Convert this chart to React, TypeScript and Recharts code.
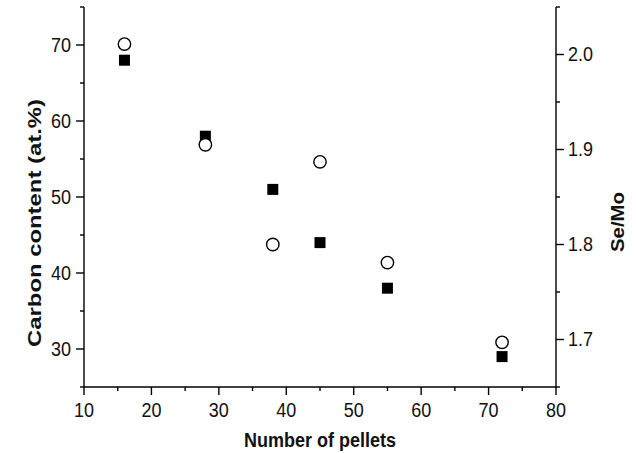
import React from "react";
import { ScatterChart, Scatter, XAxis, YAxis, Label } from "recharts";

// ---- data ----
const pellets = [16, 28, 38, 45, 55, 72];
const carbonContent = [68, 58, 51, 44, 38, 29];
const seMoRatio = [2.011, 1.905, 1.8, 1.887, 1.781, 1.697];

const xTicks = [10, 15, 20, 25, 30, 35, 40, 45, 50, 55, 60, 65, 70, 75, 80];
const leftTicks = [25, 30, 35, 40, 45, 50, 55, 60, 65, 70, 75];
const rightTicks = [1.65, 1.7, 1.75, 1.8, 1.85, 1.9, 1.95, 2.0, 2.05];

const xTitle = "Number of pellets";
const leftTitle = "Carbon content (at.%)";
const rightTitle = "Se/Mo";

const carbonData = pellets.map((x, i) => ({ x, y: carbonContent[i] }));
const seMoData = pellets.map((x, i) => ({ x, y: seMoRatio[i] }));

// ---- styles ----
const FONT = "'Liberation Sans', Arial, Helvetica, sans-serif";
const TICK_FS = 18;
const TITLE_FS = 18;
const STRETCH = 1.12;
const MAJOR = 8;
const MINOR = 4;
const SW = 1.4;
const TXT = "#111";

const isMajorStep = (v: number, step: number) =>
  Math.abs(v / step - Math.round(v / step)) < 1e-6;

const HText = (p: any) => (
  <text transform={`translate(${p.x} ${p.y}) scale(1 ${STRETCH})`} x={0} y={0}
    textAnchor={p.anchor} dominantBaseline="central" fontFamily={FONT}
    fontSize={p.fs} fontWeight={p.bold ? "bold" : "normal"} fill={TXT}>
    {p.children}
  </text>
);

const BottomTick = (props: any) => {
  const { x, y, payload } = props;
  const v = payload.value;
  const major = isMajorStep(v, 10);
  return (
    <g>
      <line x1={x} x2={x} y1={y} y2={y + (major ? MAJOR : MINOR)} stroke="#000" strokeWidth={SW} />
      {major && <HText x={x} y={y + 23} anchor="middle" fs={TICK_FS}>{v}</HText>}
    </g>
  );
};

const TopTick = (props: any) => {
  const { x, y, payload } = props;
  const v = payload.value;
  const major = isMajorStep(v, 10);
  return (
    <line x1={x} x2={x} y1={y} y2={y + (major ? MAJOR : MINOR)} stroke="#000" strokeWidth={SW} />
  );
};

const LeftTick = (props: any) => {
  const { x, y, payload } = props;
  const v = payload.value;
  const major = isMajorStep(v, 10);
  const show = major && v >= 30 && v <= 70;
  return (
    <g>
      <line x1={x} x2={x - (major ? MAJOR : MINOR)} y1={y} y2={y} stroke="#000" strokeWidth={SW} />
      {show && <HText x={x - 13} y={y} anchor="end" fs={TICK_FS}>{v}</HText>}
    </g>
  );
};

const RightTick = (props: any) => {
  const { x, y, payload } = props;
  const v = payload.value;
  const major = isMajorStep(v, 0.1);
  const show = major && v > 1.66 && v < 2.04;
  return (
    <g>
      <line x1={x} x2={x + (major ? MAJOR : MINOR)} y1={y} y2={y} stroke="#000" strokeWidth={SW} />
      {show && <HText x={x + 12} y={y} anchor="start" fs={TICK_FS}>{v.toFixed(1)}</HText>}
    </g>
  );
};

const SquareShape = (p: any) => (
  <rect x={p.cx - 5.5} y={p.cy - 5.5} width={11} height={11} fill="#000" />
);
const CircleShape = (p: any) => (
  <circle cx={p.cx} cy={p.cy} r={6.2} fill="#fff" stroke="#000" strokeWidth={1.4} />
);

const XTitle = (props: any) => {
  const vb = props.viewBox;
  return (
    <HText x={vb.x + vb.width / 2} y={vb.y + 53} anchor="middle" fs={TITLE_FS} bold>
      {xTitle}
    </HText>
  );
};

const LeftTitle = (props: any) => {
  const vb = props.viewBox;
  const cx = vb.x + 15;
  const cy = vb.y + vb.height / 2 + 26;
  return (
    <text x={cx} y={cy} transform={`rotate(-90 ${cx} ${cy})`} textAnchor="middle"
      dominantBaseline="central" fontFamily={FONT} fontSize={TITLE_FS} fontWeight="bold" fill={TXT}
      textLength={248} lengthAdjust="spacingAndGlyphs">
      {leftTitle}
    </text>
  );
};

const RightTitle = (props: any) => {
  const vb = props.viewBox;
  const cx = vb.x + 62;
  const cy = vb.y + vb.height / 2 + 25;
  return (
    <text x={cx} y={cy} transform={`rotate(-90 ${cx} ${cy})`} textAnchor="middle"
      dominantBaseline="central" fontFamily={FONT} fontSize={TITLE_FS} fontWeight="bold" fill={TXT}
      textLength={60} lengthAdjust="spacingAndGlyphs">
      {rightTitle}
    </text>
  );
};

export default function App() {
  return (
    <div style={{ position: "absolute", left: 0, top: 0, width: 636, height: 453, background: "#fff" }}>
      <ScatterChart width={636} height={453} margin={{ top: 7, right: 20, bottom: 36, left: 20 }}>
        <XAxis xAxisId="b" dataKey="x" type="number" domain={[10, 80]} ticks={xTicks} interval={0}
          tickSize={0} tickMargin={0} tickLine={false} tick={<BottomTick />} height={30}
          axisLine={{ stroke: "#000", strokeWidth: SW }} allowDataOverflow>
          <Label content={<XTitle />} />
        </XAxis>
        <XAxis xAxisId="t" orientation="top" dataKey="x" type="number" domain={[10, 80]} ticks={xTicks}
          interval={0} tickSize={0} tickMargin={0} tickLine={false} tick={<TopTick />} height={0}
          axisLine={{ stroke: "#000", strokeWidth: SW }} allowDataOverflow />
        <YAxis yAxisId="l" dataKey="y" type="number" domain={[25, 75]} ticks={leftTicks} interval={0}
          tickSize={0} tickMargin={0} tickLine={false} tick={<LeftTick />} width={64}
          axisLine={{ stroke: "#000", strokeWidth: SW }} allowDataOverflow>
          <Label content={<LeftTitle />} />
        </YAxis>
        <YAxis yAxisId="r" orientation="right" dataKey="y" type="number" domain={[1.65, 2.05]}
          ticks={rightTicks} interval={0} tickSize={0} tickMargin={0} tickLine={false}
          tick={<RightTick />} width={60} axisLine={{ stroke: "#000", strokeWidth: SW }} allowDataOverflow>
          <Label content={<RightTitle />} />
        </YAxis>
        <Scatter name="Carbon content" data={carbonData} xAxisId="b" yAxisId="l"
          shape={<SquareShape />} isAnimationActive={false} />
        <Scatter name="Se/Mo" data={seMoData} xAxisId="b" yAxisId="r"
          shape={<CircleShape />} isAnimationActive={false} />
      </ScatterChart>
    </div>
  );
}
